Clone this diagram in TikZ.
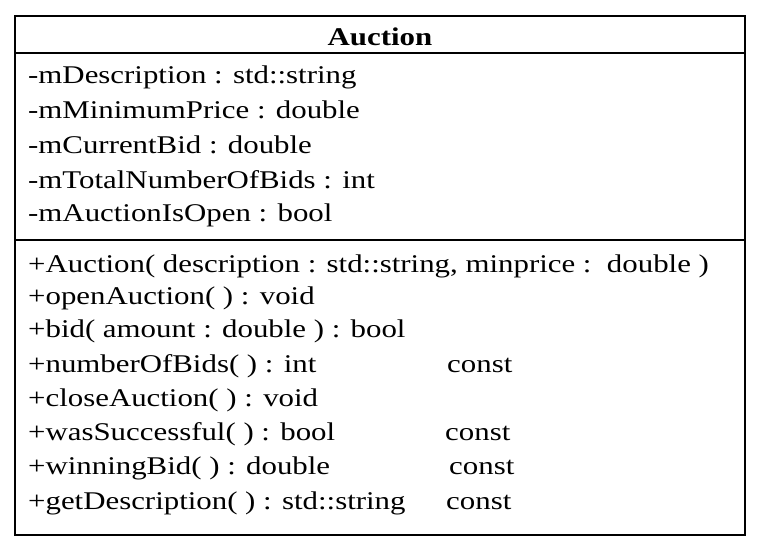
\documentclass[tikz,border=0pt]{standalone}
\usepackage{fontspec}
\setmainfont{Liberation Serif}[FakeStretch=1.21]
\begin{document}
\begin{tikzpicture}[x=1pt,y=-1pt,
  member/.style={anchor=base west,inner sep=0pt,font=\fontsize{25.5}{27}\selectfont},
  qual/.style={member},
  title/.style={anchor=base,inner sep=0pt,font=\fontsize{25.5}{27}\selectfont\bfseries},
  frame/.style={line width=2pt}]
\useasboundingbox (0,0) rectangle (770,554);
% class box and compartment separators
\draw[frame] (15,16) rectangle (745,535);
\draw[frame] (15,53) -- (745,53);
\draw[frame] (15,240) -- (745,240);
% class name
\node[title] (name) at (380,45) {Auction};
% attributes
\node[member] (a1) at (28,83)  {-mDescription : std::string};
\node[member] (a2) at (28,118) {-mMinimumPrice : double};
\node[member] (a3) at (28,153) {-mCurrentBid : double};
\node[member] (a4) at (28,188) {-mTotalNumberOfBids : int};
\node[member] (a5) at (28,221) {-mAuctionIsOpen : bool};
% operations
\node[member] (o1) at (28,272) {+Auction( description : std::string, minprice :\ \ double )};
\node[member] (o2) at (28,304) {+openAuction( ) : void};
\node[member] (o3) at (28,337) {+bid( amount : double ) : bool};
\node[member] (o4) at (28,372) {+numberOfBids( ) : int};
\node[member] (o5) at (28,406) {+closeAuction( ) : void};
\node[member] (o6) at (28,440) {+wasSuccessful( ) : bool};
\node[member] (o7) at (28,474) {+winningBid( ) : double};
\node[member] (o8) at (28,509) {+getDescription( ) : std::string};
% const qualifiers
\node[qual] (c4) at (447,372) {const};
\node[qual] (c6) at (445,440) {const};
\node[qual] (c7) at (449,474) {const};
\node[qual] (c8) at (446,509) {const};
\end{tikzpicture}
\end{document}
